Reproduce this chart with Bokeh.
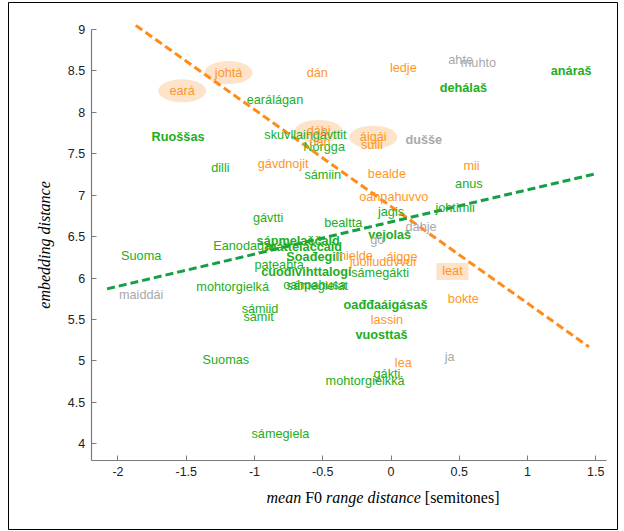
from bokeh.plotting import figure
from bokeh.models import ColumnDataSource, Range1d, LinearAxis, FixedTicker, Label
from bokeh.core.properties import value, field
from bokeh.embed import file_html
from bokeh.resources import INLINE

# ---- words: mean F0 range distance (x) vs. embedding distance (y) ----
green_words = ["earálágan", "anáraš", "dehálaš", "Ruoššas", "skuvllain", "gávttit",
               "Norgga", "dilli", "sámiin", "anus", "jagis", "johtimii", "gávtti",
               "bealtta", "vejolaš", "Eanodaga", "sápmelaččaid", "máttelaččaid",
               "Suoma", "Soađegili", "pateahta", "cuođivihttalogi", "sámegákti",
               "oahpahusa", "sámegielat", "mohtorgielká", "sámiid", "sámit",
               "oađđaáigásaš", "vuosttaš", "Suomas", "gákti", "mohtorgielkká",
               "sámegiela"]
green_x = [-0.85, 1.32, 0.53, -1.56, -0.75, -0.45,
           -0.49, -1.25, -0.50, 0.57, 0.00, 0.47, -0.90,
           -0.35, -0.01, -1.09, -0.68, -0.64,
           -1.83, -0.56, -0.82, -0.62, -0.08,
           -0.56, -0.54, -1.16, -0.96, -0.97,
           -0.04, -0.07, -1.21, -0.03, -0.19,
           -0.81]
green_y = [8.15, 8.50, 8.30, 7.70, 7.73, 7.73,
           7.58, 7.33, 7.25, 7.13, 6.80, 6.85, 6.73,
           6.67, 6.52, 6.39, 6.45, 6.38,
           6.27, 6.25, 6.16, 6.07, 6.06,
           5.92, 5.90, 5.89, 5.63, 5.53,
           5.67, 5.31, 5.01, 4.84, 4.76,
           4.12]

orange_words = ["johtá", "eará", "dán", "ledje", "dáhi", "dan", "áigái", "sulli",
                "gávdnojit", "bealde", "mii", "oahpahuvvo", "mielde", "áigge",
                "juolluduvvui", "leat", "bokte", "lassin", "lea"]
orange_x = [-1.19, -1.53, -0.54, 0.09, -0.53, -0.52, -0.13, -0.14,
            -0.79, -0.03, 0.59, 0.02, -0.27, 0.08,
            -0.06, 0.45, 0.53, -0.03, 0.09]
orange_y = [8.48, 8.26, 8.48, 8.54, 7.77, 7.64, 7.70, 7.61,
            7.38, 7.26, 7.35, 6.98, 6.27, 6.26,
            6.20, 6.08, 5.75, 5.49, 4.97]

gray_words = ["ahte", "muhto", "dušše", "dahje", "go", "maiddái", "ja"]
gray_x = [0.51, 0.64, 0.24, 0.22, -0.10, -1.83, 0.43]
gray_y = [8.63, 8.59, 7.67, 6.62, 6.46, 5.80, 5.05]

# words singled out with a soft background
circled_words = ["johtá", "eará", "dáhi", "áigái"]
boxed_words = ["leat"]

# linear trends of the two word groups (end points)
orange_fit_x = [-1.87, 1.45]
orange_fit_y = [9.05, 5.17]
green_fit_x = [-2.08, 1.50]
green_fit_y = [5.87, 7.26]

x_ticks = [-2, -1.5, -1, -0.5, 0, 0.5, 1, 1.5]
x_tick_labels = ["-2", "-1.5", "-1", "-0.5", "0", "0.5", "1", "1.5"]
y_ticks = [4, 4.5, 5, 5.5, 6, 6.5, 7, 7.5, 8, 8.5, 9]
y_tick_labels = ["4", "4.5", "5", "5.5", "6", "6.5", "7", "7.5", "8", "8.5", "9"]

# ---- styling ----
GREEN = "#22ad22"
ORANGE = "#ff9628"
GRAY = "#a9a9a9"
ORANGE_LINE = "#ff8c1a"
GREEN_LINE = "#15a045"
HIGHLIGHT = "#fde3c9"
SANS = "Liberation Sans"
SERIF = "Liberation Serif"
SPECIAL = set("šđčŋŧžŠĐČŊŦŽ")

p = figure(width=624, height=531,
           x_range=Range1d(-2.802, 1.659), y_range=Range1d(2.966, 9.326),
           x_axis_type=None, y_axis_type=None,
           min_border_left=8, min_border_right=7, min_border_top=2, min_border_bottom=2,
           output_backend="svg", toolbar_location=None)
p.outline_line_color = "black"
p.outline_line_width = 1
p.background_fill_color = "white"
p.border_fill_color = "white"

# axes drawn at fixed data positions, box-less
xaxis = LinearAxis(fixed_location=3.80, bounds=(-2.196, 1.58),
                   ticker=FixedTicker(ticks=x_ticks))
yaxis = LinearAxis(fixed_location=-2.196, bounds=(3.80, 9.0),
                   ticker=FixedTicker(ticks=y_ticks))
xaxis.major_label_overrides = {float(t): s for t, s in zip(x_ticks, x_tick_labels)}
yaxis.major_label_overrides = {float(t): s for t, s in zip(y_ticks, y_tick_labels)}
for ax, standoff in ((xaxis, 7), (yaxis, 6)):
    ax.axis_line_color = "#7a7a7a"
    ax.axis_line_width = 1.2
    ax.major_tick_line_color = "#7a7a7a"
    ax.major_tick_in = 5
    ax.major_tick_out = 0
    ax.minor_tick_line_color = None
    ax.major_label_text_font = SANS
    ax.major_label_text_font_size = "12.5px"
    ax.major_label_text_color = "#222222"
    ax.major_label_standoff = standoff
p.add_layout(xaxis, "below")
p.add_layout(yaxis, "left")

# collect all words into one table
words, xs, ys, colors = [], [], [], []
for w_list, x_list, y_list, c in ((green_words, green_x, green_y, GREEN),
                                  (orange_words, orange_x, orange_y, ORANGE),
                                  (gray_words, gray_x, gray_y, GRAY)):
    words += w_list
    xs += x_list
    ys += y_list
    colors += [c] * len(w_list)
styles = ["bold" if any(ch in SPECIAL for ch in w) else "normal" for w in words]
src = ColumnDataSource(dict(x=xs, y=ys, word=words, color=colors, style=styles))

# soft highlights behind selected words
circ = [i for i, w in enumerate(words) if w in circled_words]
p.ellipse(x=[xs[i] for i in circ], y=[ys[i] for i in circ],
          width=48, height=23, width_units="screen", height_units="screen",
          fill_color=HIGHLIGHT, line_color=None)
box = [i for i, w in enumerate(words) if w in boxed_words]
p.rect(x=[xs[i] for i in box], y=[ys[i] for i in box],
       width=32, height=17, width_units="screen", height_units="screen",
       fill_color=HIGHLIGHT, line_color=None)

# trend lines
p.line(orange_fit_x, orange_fit_y, line_color=ORANGE_LINE, line_width=3, line_dash="8 4")
p.line(green_fit_x, green_fit_y, line_color=GREEN_LINE, line_width=3, line_dash="8 4")

p.text(x="x", y="y", text="word", source=src, text_color="color",
       text_font=value(SANS), text_font_size="12.7px", text_font_style=field("style"),
       text_align="center", text_baseline="middle")

# axis titles (mixed italic / upright)
title_parts = [("mean", "italic", 0), ("F0", "normal", 38.7),
               ("range distance", "italic", 59.6), ("[semitones]", "normal", 158.3)]
for txt, st, dx in title_parts:
    p.add_layout(Label(x=-0.912, y=3.352, x_offset=dx, text=txt,
                       text_font=SERIF, text_font_style=st, text_font_size="16px",
                       text_color="black", text_align="left", text_baseline="middle"))
p.add_layout(Label(x=-2.538, y=6.40, text="embedding distance", angle=1.5708,
                   text_font=SERIF, text_font_style="italic", text_font_size="16px",
                   text_color="black", text_align="center", text_baseline="middle"))

open("out.html", "w").write(file_html(p, INLINE))
